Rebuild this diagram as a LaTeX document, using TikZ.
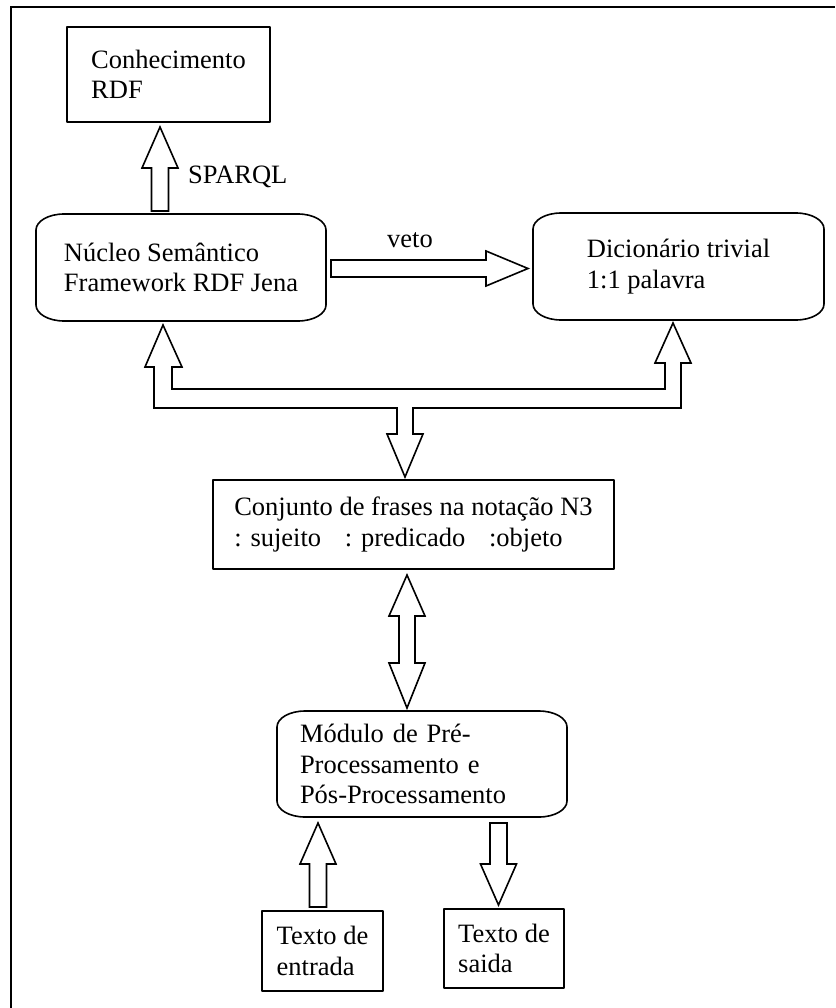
\documentclass[tikz,border=0pt]{standalone}
\usepackage{fontspec}
\setmainfont{Liberation Serif}
\usetikzlibrary{calc}

\newcommand\diagfont{\fontsize{26.5}{30.5}\selectfont}

% outline with elliptic corners around a (borderless) node
\newcommand\softframe[1]{%
  \draw[boxline] ([xshift=28pt]#1.north west) -- ([xshift=-28pt]#1.north east)
    arc[start angle=90,end angle=0,x radius=28pt,y radius=16pt]
    -- ([yshift=16pt]#1.south east)
    arc[start angle=0,end angle=-90,x radius=28pt,y radius=16pt]
    -- ([xshift=28pt]#1.south west)
    arc[start angle=270,end angle=180,x radius=28pt,y radius=16pt]
    -- ([yshift=-16pt]#1.north west)
    arc[start angle=180,end angle=90,x radius=28pt,y radius=16pt] -- cycle;}

% hollow vertical block arrow: tail, tip, direction (1 = up, -1 = down)
\newcommand\vblock[3]{%
  \draw[barrow] let \p1=(#1), \p2=(#2), \n1={#3*41} in
    (\x1-8.5pt,\y1) -- (\x1-8.5pt,\y2-\n1) -- (\x1-18pt,\y2-\n1)
    -- (\x1,\y2) -- (\x1+18pt,\y2-\n1) -- (\x1+8.5pt,\y2-\n1)
    -- (\x1+8.5pt,\y1) -- cycle;}

\begin{document}
\begin{tikzpicture}[x=1pt,y=1pt,
  boxline/.style={line width=1.6pt, line join=round},
  box/.style={draw, boxline, rectangle, align=left, inner sep=0pt, outer sep=0pt, font=\diagfont},
  softbox/.style={rectangle, align=left, inner sep=0pt, outer sep=0pt, font=\diagfont},
  barrow/.style={draw, line width=1.6pt, fill=white, line join=miter},
  lbl/.style={inner sep=0pt, font=\diagfont}]

\useasboundingbox (0,0) rectangle (835,-1008);

% page frame (top and left edges)
\draw[line width=2pt] (11,-1008) -- (11,-7) -- (835,-7);

% blocks
\node[box, minimum width=203, minimum height=95] (conh) at (168.5,-74.5)
  {Conhecimento\\RDF};
\node[softbox, minimum width=290, minimum height=107] (nucleo) at (181,-267.5)
  {Núcleo Semântico\\Framework RDF Jena};
\node[softbox, minimum width=291, minimum height=107] (dic) at (678.5,-266.5)
  {Dicionário trivial\\1:1 palavra};
\node[box, minimum width=401, minimum height=89] (conj) at (413.5,-524.5)
  {Conjunto de frases na notação N3\\: sujeito\hspace{17pt} : predicado\hspace{17pt} :objeto};
\node[softbox, text width=244, inner xsep=23pt, minimum height=106] (modulo) at (422,-764)
  {Módulo de Pré-\\Processamento e\\Pós-Processamento};
\node[box, minimum width=121, minimum height=80] (entrada) at (322.5,-951)
  {Texto de\\entrada};
\node[box, minimum width=120, minimum height=79] (saida) at (504,-948.5)
  {Texto de\\saida};

\softframe{nucleo}
\softframe{dic}
\softframe{modulo}

% SPARQL query arrow
\coordinate (sparqlTip) at ($(conh.south)+(-8.5,-5)$);
\coordinate (sparqlTail) at ($(sparqlTip |- nucleo.north)+(0,3)$);
\vblock{sparqlTail}{sparqlTip}{1}
\node[lbl, anchor=west] (sparql) at (188,-177) {SPARQL};

% veto arrow
\coordinate (vetoTail) at ($(nucleo.east)+(5,-1)$);
\coordinate (vetoTip) at ($(vetoTail -| dic.west)+(-5,0)$);
\draw[barrow] let \p1=(vetoTail), \p2=(vetoTip) in
  (\x1,\y1+8.5pt) -- (\x2-42pt,\y1+8.5pt) -- (\x2-42pt,\y1+17.5pt) -- (\p2)
  -- (\x2-42pt,\y1-17.5pt) -- (\x2-42pt,\y1-8.5pt) -- (\x1,\y1-8.5pt) -- cycle;
\node[lbl] (veto) at (410,-240) {veto};

% forked arrow between the triple set and both upper blocks
\coordinate (tipL) at ($(nucleo.south)+(-18,-4)$);
\coordinate (tipR) at ($(dic.south)+(-5.5,-3)$);
\coordinate (tipC) at ($(conj.north)+(-8.5,3)$);
\draw[barrow] let \p1=(tipL), \p2=(tipR), \p3=(tipC) in
  (\p1) -- (\x1+19pt,\y1-42pt) -- (\x1+9pt,\y1-42pt) -- (\x1+9pt,\y1-64pt)
  -- (\x2-8pt,\y1-64pt) -- (\x2-8pt,\y2-40pt) -- (\x2-18pt,\y2-40pt) -- (\p2)
  -- (\x2+18pt,\y2-40pt) -- (\x2+8pt,\y2-40pt) -- (\x2+8pt,\y1-83pt)
  -- (\x3+8pt,\y1-83pt) -- (\x3+8pt,\y3+43pt) -- (\x3+18pt,\y3+43pt) -- (\p3)
  -- (\x3-18pt,\y3+43pt) -- (\x3-8pt,\y3+43pt) -- (\x3-8pt,\y1-83pt)
  -- (\x1-9pt,\y1-83pt) -- (\x1-9pt,\y1-42pt) -- (\x1-18pt,\y1-42pt) -- cycle;

% double arrow between the triple set and the processing module
\coordinate (dblTop) at ($(conj.south)+(-6.5,-6)$);
\coordinate (dblBot) at ($(dblTop |- modulo.north)+(0,3)$);
\draw[barrow] let \p1=(dblTop), \p2=(dblBot) in
  (\p1) -- (\x1+18pt,\y1-41pt) -- (\x1+8pt,\y1-41pt) -- (\x1+8pt,\y2+45pt)
  -- (\x1+18pt,\y2+45pt) -- (\p2) -- (\x1-18pt,\y2+45pt) -- (\x1-8pt,\y2+45pt)
  -- (\x1-8pt,\y1-41pt) -- (\x1-18pt,\y1-41pt) -- cycle;

% input and output arrows
\coordinate (inTail) at ($(entrada.north)+(-4.5,4)$);
\coordinate (inTip) at ($(inTail |- modulo.south)+(0,-6)$);
\vblock{inTail}{inTip}{1}
\coordinate (outTip) at ($(saida.north)+(-5.5,4)$);
\coordinate (outTail) at ($(outTip |- modulo.south)+(0,-6)$);
\vblock{outTail}{outTip}{-1}

\end{tikzpicture}
\end{document}
